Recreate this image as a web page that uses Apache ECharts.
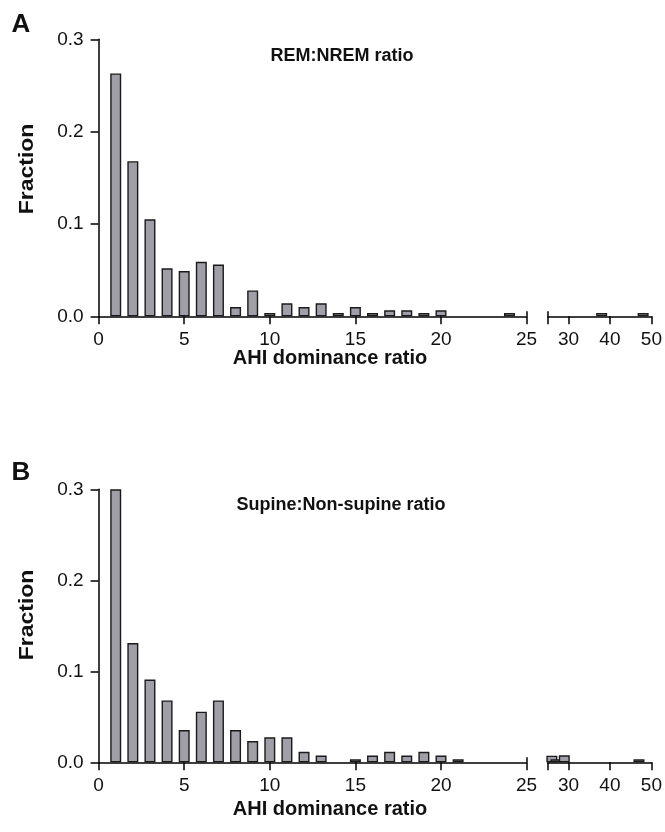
<!DOCTYPE html>
<html><head><meta charset="utf-8">
<script src="https://cdn.jsdelivr.net/npm/echarts@6/dist/echarts.min.js"></script>
<style>html,body{margin:0;padding:0;background:#fff}#c{width:665px;height:832px}</style>
</head><body><div id="c"></div>
<script>
// Panel A: REM:NREM ratio
const remBins = [1,2,3,4,5,6,7,8,9,10,11,12,13,14,15,16,17,18,19,20,24];
const remFrac = [0.263,0.168,0.105,0.052,0.049,0.059,0.056,0.010,0.028,0.0035,0.014,0.010,0.014,0.0035,0.010,0.0035,0.0065,0.0065,0.0035,0.0065,0.0035];
const remTailBins = [38,48];
const remTailFrac = [0.0035,0.0035];
// Panel B: Supine:Non-supine ratio
const supBins = [1,2,3,4,5,6,7,8,9,10,11,12,13,15,16,17,18,19,20,21];
const supFrac = [0.300,0.131,0.091,0.068,0.0355,0.0556,0.068,0.0355,0.0234,0.0274,0.0274,0.0115,0.0075,0.0033,0.0075,0.0115,0.0075,0.0115,0.0075,0.0033];
const supTailBins = [26,27,29,47];
const supTailFrac = [0.0073,0.0033,0.0077,0.0033];
// Ticks
const yTickValues = [0,0.1,0.2,0.3];
const mainTickValues = [0,5,10,15,20,25];
const tailTickValues = [25,30,40,50];
const tailLabelValues = [30,40,50];
const breakValue = 25;

const FONT = '"Liberation Sans", Arial, sans-serif';
const BLACK = '#000';
const lineStyle = {color: BLACK, width: 1.5};

function pairs(xs, ys){ return xs.map((x,i)=>[x, ys[i]]); }

function mainX(gi){
  return {type:'value', gridIndex:gi, min:0, max:25, interval:5,
    axisLine:{show:true, onZero:true, lineStyle},
    axisTick:{show:true, length:8, lineStyle},
    axisLabel:{fontSize:19, color:'#111', margin:14, fontFamily:FONT, customValues: mainTickValues},
    splitLine:{show:false}};
}
function tailX(gi){
  return {type:'value', gridIndex:gi, min:25, max:50,
    axisLine:{show:true, onZero:true, lineStyle},
    axisTick:{show:true, length:8, lineStyle, customValues: tailTickValues},
    axisLabel:{fontSize:19, color:'#111', margin:14, fontFamily:FONT, customValues: tailLabelValues},
    splitLine:{show:false}};
}
function mainY(gi){
  return {type:'value', gridIndex:gi, min:0, max:0.3, interval:0.1,
    axisLine:{show:true, lineStyle},
    axisTick:{show:true, length:8, lineStyle},
    axisLabel:{fontSize:19, color:'#111', margin:15, fontFamily:FONT, formatter:v=>v.toFixed(1), customValues: yTickValues},
    splitLine:{show:false}};
}
function tailY(gi){
  return {type:'value', gridIndex:gi, min:0, max:0.3, show:false, splitLine:{show:false}};
}
const barStyle = {color:'#a09fa7', borderColor:'#1a1a1a', borderWidth:1.4};
function barSeries(xi, data, withBreak){
  const s = {type:'bar', xAxisIndex:xi, yAxisIndex:xi, data, barWidth:11, clip:false,
    itemStyle:barStyle, animation:false, silent:true};
  if (withBreak) {
    s.markLine = {symbol:'none', silent:true, animation:false, label:{show:false},
      lineStyle:{color:BLACK, width:1.5, type:'solid'},
      data:[[{coord:[breakValue,0]},{coord:[breakValue,0.0055]}]]};
  }
  return s;
}

const chart = echarts.init(document.getElementById('c'), null, {renderer:'canvas'});
chart.setOption({
  backgroundColor:'#fff',
  animation:false,
  grid:[
    {left:98.6, top:39.3, width:428, height:277},
    {left:547.7, top:39.3, width:106.3, height:277},
    {left:98.6, top:489.3, width:428, height:273},
    {left:547.7, top:489.3, width:106.3, height:273}
  ],
  xAxis:[mainX(0), tailX(1), mainX(2), tailX(3)],
  yAxis:[mainY(0), tailY(1), mainY(2), tailY(3)],
  series:[
    barSeries(0, pairs(remBins, remFrac), true),
    barSeries(1, pairs(remTailBins, remTailFrac), true),
    barSeries(2, pairs(supBins, supFrac), true),
    barSeries(3, pairs(supTailBins, supTailFrac), false)
  ],
  graphic:[
    {type:'text', x:21, y:25, style:{text:'A', font:'bold 26px '+FONT, fill:'#111', align:'center', verticalAlign:'middle'}},
    {type:'text', x:21, y:473, style:{text:'B', font:'bold 26px '+FONT, fill:'#111', align:'center', verticalAlign:'middle'}},
    {type:'text', x:27, y:169, rotation:Math.PI/2, scaleX:1.15, style:{text:'Fraction', font:'bold 20px '+FONT, fill:'#111', align:'center', verticalAlign:'middle'}},
    {type:'text', x:27, y:615, rotation:Math.PI/2, scaleX:1.15, style:{text:'Fraction', font:'bold 20px '+FONT, fill:'#111', align:'center', verticalAlign:'middle'}},
    {type:'text', x:330, y:358, style:{text:'AHI dominance ratio', font:'bold 20px '+FONT, fill:'#111', align:'center', verticalAlign:'middle'}},
    {type:'text', x:330, y:809, style:{text:'AHI dominance ratio', font:'bold 20px '+FONT, fill:'#111', align:'center', verticalAlign:'middle'}},
    {type:'text', x:342, y:56, style:{text:'REM:NREM ratio', font:'bold 18px '+FONT, fill:'#111', align:'center', verticalAlign:'middle'}},
    {type:'text', x:341, y:505, style:{text:'Supine:Non-supine ratio', font:'bold 18px '+FONT, fill:'#111', align:'center', verticalAlign:'middle'}}
  ]
});
</script>
</body></html>
